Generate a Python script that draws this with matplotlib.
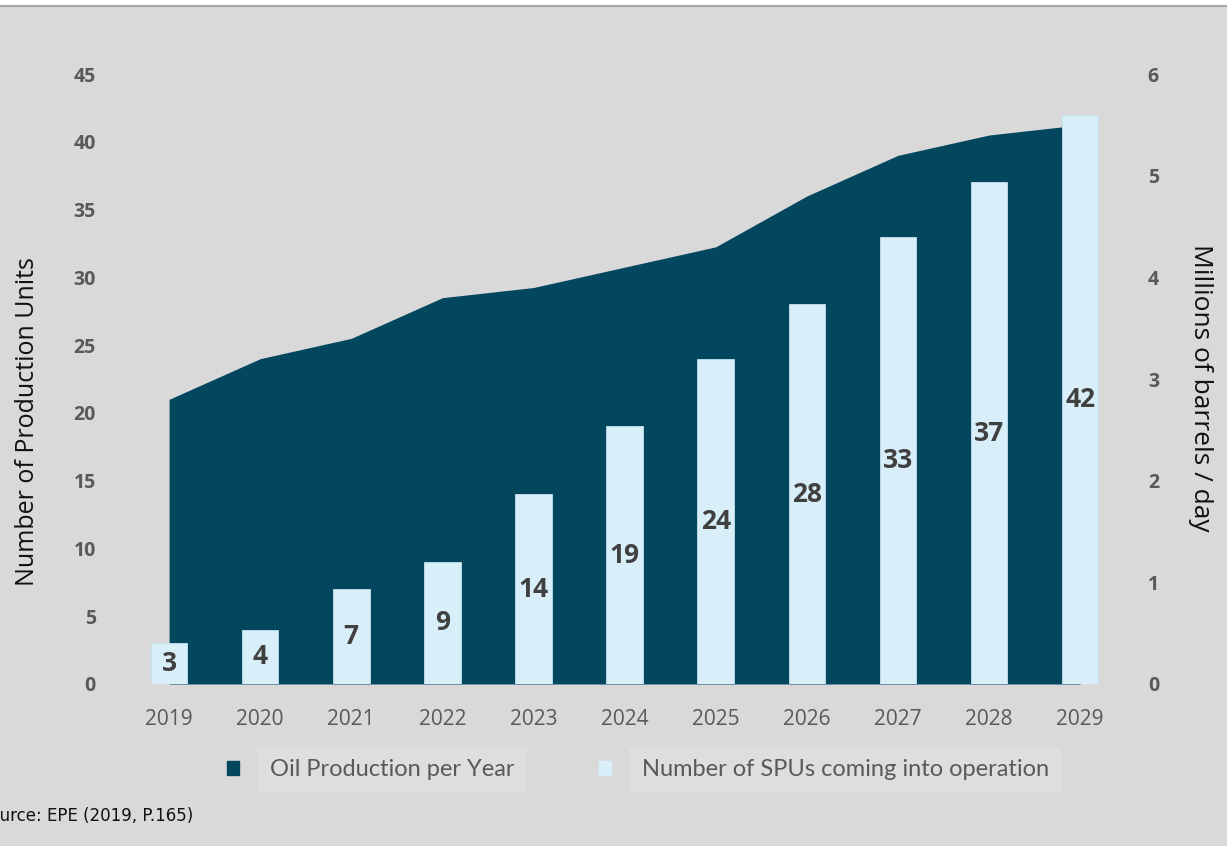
import numpy as np
import matplotlib.pyplot as plt
from matplotlib.lines import Line2D
from matplotlib.patches import Rectangle

# data
years = ['2019', '2020', '2021', '2022', '2023', '2024', '2025', '2026', '2027', '2028', '2029']
spus = [3, 4, 7, 9, 14, 19, 24, 28, 33, 37, 42]
oil = [2.8, 3.2, 3.4, 3.8, 3.9, 4.1, 4.3, 4.8, 5.2, 5.4, 5.5]

bg = '#d9d9d9'
dark = '#03475f'
light = '#d8eff9'
grey = '#595959'

fig = plt.figure(figsize=(12.27, 8.46), dpi=100, facecolor=bg)
ax = fig.add_axes([0.1007, 0.1915, 0.8167, 0.721])
ax2 = ax.twinx()

x = np.arange(len(years))

# area on the right axis, bars drawn over it
ax2.fill_between(x, oil, color=dark, linewidth=0)
ax2.set_ylim(0, 6)
ax2.set_yticks(range(0, 7))

bars = ax.bar(x, spus, width=0.4, color=light, edgecolor='#c4e2ef', linewidth=0.6)
ax.bar_label(bars, label_type='center', fontsize=19, fontweight='bold',
             color='#404040', family='Open Sans')
ax.set_ylim(0, 45)
ax.set_yticks(range(0, 50, 5))
ax.set_xlim(-0.5, len(years) - 0.5)
ax.set_xticks(x)
ax.set_xticklabels(years)

ax.set_zorder(ax2.get_zorder() + 1)
ax.patch.set_visible(False)
ax2.patch.set_facecolor(bg)

for a in (ax, ax2):
    for s in a.spines.values():
        s.set_visible(False)
    a.tick_params(length=0)

ax.tick_params(axis='y', pad=20, labelcolor=grey)
ax2.tick_params(axis='y', pad=16, labelcolor=grey)
ax.tick_params(axis='x', pad=18, labelcolor=grey)
for lbl in ax.get_yticklabels() + ax2.get_yticklabels():
    lbl.set_fontfamily('Open Sans')
    lbl.set_fontweight('bold')
    lbl.set_fontsize(14)
for lbl in ax.get_xticklabels():
    lbl.set_fontfamily('Open Sans')
    lbl.set_fontsize(15)

ax.set_ylabel('Number of Production Units', fontsize=18, family='Open Sans', color='#111111')
ax.yaxis.set_label_coords(-0.083, 0.43)
ax2.set_ylabel('Millions of barrels / day', fontsize=19, family='Open Sans', color='#111111',
               rotation=270, va='top')
ax2.yaxis.set_label_coords(1.087, 0.486)

# legend
handles = [Rectangle((0, 0), 1, 1, color=dark), Rectangle((0, 0), 1, 1, color=light)]
leg = fig.legend(handles, ['Oil Production per Year', 'Number of SPUs coming into operation'],
                 loc='center', bbox_to_anchor=(0.52, 0.09), ncol=2, frameon=False,
                 handlelength=0.5, handleheight=0.5, handletextpad=1.3, columnspacing=3.6,
                 prop={'family': 'Lato', 'size': 17})
for t in leg.get_texts():
    t.set_color(grey)
    t.set_bbox(dict(facecolor='#dedede', edgecolor='none', pad=9))

fig.text(-0.017, 0.036, 'Source: EPE (2019, P.165)', fontsize=12, family='DejaVu Sans',
         color='#111111', va='center')

# white strip and line at the top
fig.add_artist(Rectangle((0, 1 - 5 / 846), 1, 5 / 846, transform=fig.transFigure,
                         color='white', linewidth=0))
fig.add_artist(Line2D([0, 1], [1 - 6 / 846, 1 - 6 / 846], transform=fig.transFigure,
                      color='#a6a6a6', linewidth=1.5))

fig.savefig('out.png', dpi=100, facecolor=bg)
